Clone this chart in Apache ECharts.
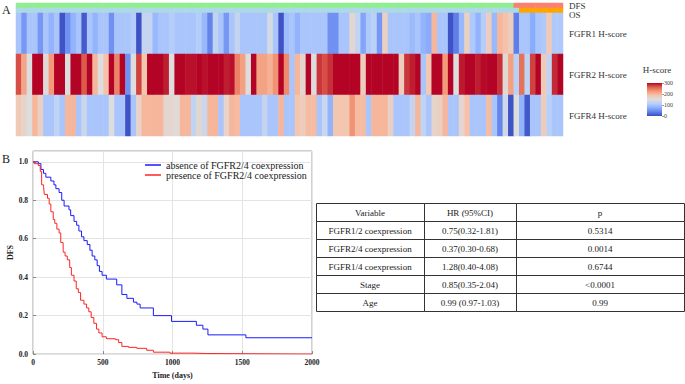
<!DOCTYPE html>
<html>
<head>
<meta charset="utf-8">
<title>FGFR H-score heatmap and DFS curves</title>
<script src="https://cdn.jsdelivr.net/npm/echarts@6/dist/echarts.min.js"></script>
<style>
html,body{margin:0;padding:0;background:#fff;}
#main{width:685px;height:384px;}
</style>
</head>
<body>
<div id="main"></div>
<script>
//---------------------------------data----------------------------
// status bars, 0 = no event, 1 = event
var dfsEvent=[0,0,0,0,0,0,0,0,0,0, 0,0,0,0,0,0,0,0,0,0,
	0,0,0,0,0,0,0,0,0,0, 0,0,0,0,0,0,0,0,0,0,
	0,0,0,0,0,0,0,0,0,0, 0,0,0,0,0,0,0,0,0,0,
	0,0,0,0,0,0,0,0,0,0, 0,0,0,0,0,0,0,0,0,0,
	0,0,0,0,0,0,0,0,0,0, 0,1,1,1,1,1,1,1,1,1];
var osEvent=[0,0,0,0,0,0,0,0,0,0, 0,0,0,0,0,0,0,0,0,0,
	0,0,0,0,0,0,0,0,0,0, 0,0,0,0,0,0,0,0,0,0,
	0,0,0,0,0,0,0,0,0,0, 0,0,0,0,0,0,0,0,0,0,
	0,0,0,0,0,0,0,0,0,0, 0,0,0,0,0,0,0,0,0,0,
	0,0,0,0,0,0,0,0,0,0, 0,0,1,1,1,1,1,1,1,1];
// H-scores per patient
var fgfr1=[100,55,100,100,55,100,80,100,5,50, 80,100,10,100,80,100,100,50,100,100,
	100,110,5,125,125,85,100,100,110,100, 100,100,100,110,85,40,120,100,55,100,
	125,100,100,100,100,100,140,100,5,90, 100,80,100,100,100,100,100,50,50,100,
	100,160,125,65,105,115,55,170,100,100, 100,100,88,100,80,72,200,100,100,5,
	35,85,170,105,80,110,175,85,200,190, 175,35,100,100,72,100,105,180,105,105];
var fgfr2=[270,215,150,300,300,155,225,300,300,150, 300,300,265,300,200,150,190,300,240,300,
	50,150,275,185,300,300,300,290,150,300, 300,295,295,300,295,300,300,300,290,295,
	240,220,150,300,218,218,205,230,300,235, 100,200,160,300,150,280,270,282,300,300,
	300,300,300,175,300,300,300,300,300,300, 175,280,290,300,100,183,300,300,225,300,
	150,292,300,300,290,298,300,300,282,158, 220,115,250,120,275,300,180,125,285,300];
var fgfr4=[180,165,150,200,170,100,100,120,100,200, 200,100,130,100,100,100,100,150,100,100,
	5,100,165,200,200,200,200,160,160,155, 200,200,120,160,130,200,200,100,165,200,
	195,100,100,100,100,125,100,100,200,100, 100,185,175,195,195,100,130,80,185,185,
	185,230,195,195,100,200,200,200,170,100, 100,100,125,200,120,100,165,170,200,100,
	100,162,190,100,100,100,195,98,40,135, 5,150,80,8,100,100,175,115,100,100];
var statusNames=['DFS','OS'];
var rowNames=['FGFR1 H-score','FGFR2 H-score','FGFR4 H-score'];
var hscoreTicks=[0,100,200,300];

// DFS step curves (days, survival)
var absTime=[0,38,57,75,92,128,150,164,187,206,223,258,270,294,313,329,348,365,389,408,424,443,460,476,495,526,600,637,673,720,745,768,863,993,1171,1218,1254,1526,2000];
var absDfs=[1,0.99,0.96,0.94,0.92,0.90,0.88,0.86,0.84,0.80,0.77,0.75,0.72,0.69,0.67,0.64,0.61,0.59,0.57,0.54,0.51,0.49,0.46,0.43,0.41,0.39,0.36,0.31,0.29,0.27,0.26,0.24,0.20,0.17,0.15,0.13,0.10,0.085,0.085];
var preTime=[0,9,38,52,62,76,81,104,116,128,145,156,171,187,199,216,230,246,263,275,294,310,325,341,365,384,400,417,436,455,472,495,526,590,614,637,685,744,815,863,981,1147,1242,2000];
var preDfs=[1,0.99,0.98,0.95,0.88,0.87,0.83,0.81,0.78,0.74,0.70,0.68,0.65,0.63,0.58,0.53,0.51,0.49,0.45,0.41,0.38,0.34,0.32,0.28,0.26,0.24,0.22,0.19,0.16,0.13,0.11,0.09,0.08,0.075,0.06,0.04,0.035,0.03,0.02,0.01,0.005,0.003,0,0];
var legendNames=['absence of FGFR2/4 coexpression','presence of FGFR2/4 coexpression'];

// cox table
var tableHead=['Variable','HR (95%CI)','p'];
var tableVar=['FGFR1/2 coexpression','FGFR2/4 coexpression','FGFR1/4 coexpression','Stage','Age'];
var tableHR=['0.75(0.32-1.81)','0.37(0.30-0.68)','1.28(0.40-4.08)','0.85(0.35-2.04)','0.99 (0.97-1.03)'];
var tableP=['0.5314','0.0014','0.6744','<0.0001','0.99'];

//---------------------------------build----------------------------
var serif='"Liberation Serif","Times New Roman",serif';
var coolwarm=['#3b4cc0','#6282ea','#8db0fe','#b8d0f9','#dddddd','#f5c4ad','#f49a7b','#de604d','#b40426'];

var colIds=[];
var statusData=[],scoreData=[];
for(var i=0;i<fgfr1.length;i++){
	colIds.push(String(i+1));
	statusData.push([i,0,dfsEvent[i]]);
	statusData.push([i,1,osEvent[i]+2]);   // OS uses its own colour pair
	scoreData.push([i,0,fgfr1[i]]);
	scoreData.push([i,1,fgfr2[i]]);
	scoreData.push([i,2,fgfr4[i]]);
}
function pairs(t,s){
	var out=[];
	for(var k=0;k<t.length;k++){ out.push([t[k],s[k]]); }
	return out;
}

// table as graphic elements
var colX=[316,424,516,684];
var rowTop=203,rowH=18;
var rows=[tableHead];
for(var r=0;r<tableVar.length;r++){ rows.push([tableVar[r],tableHR[r],tableP[r]]); }
var graphics=[
	{type:'text',left:2,top:4,style:{text:'A',font:'12px '+serif,fill:'#222'}},
	{type:'text',left:2,top:153,style:{text:'B',font:'12px '+serif,fill:'#222'}}
];
for(var ri=0;ri<rows.length;ri++){
	for(var c=0;c<3;c++){
		graphics.push({type:'rect',silent:true,
			shape:{x:colX[c]+0.5,y:rowTop+ri*rowH+0.5,width:colX[c+1]-colX[c],height:rowH},
			style:{fill:'none',stroke:'#333',lineWidth:1}});
		graphics.push({type:'text',silent:true,
			x:(colX[c]+colX[c+1])/2,y:rowTop+ri*rowH+rowH/2+1,
			style:{text:rows[ri][c],font:'9px '+serif,fill:'#222',align:'center',verticalAlign:'middle'}});
	}
}

var myChart=echarts.init(document.getElementById('main'),null,{renderer:'svg'});
var option={
	animation:false,
	backgroundColor:'#fff',
	textStyle:{fontFamily:serif},
	grid:[
		{left:16,top:3,width:547,height:10},
		{left:16,top:13,width:547,height:123},
		{left:647,top:83,width:15,height:33},
		{left:33,top:151,width:279,height:206,show:true,borderColor:'#a0a0a0',borderWidth:1}
	],
	xAxis:[
		{gridIndex:0,type:'category',data:colIds,show:false},
		{gridIndex:1,type:'category',data:colIds,show:false},
		{gridIndex:2,type:'category',data:['H-score'],show:false},
		{gridIndex:3,type:'value',min:0,max:2000,interval:500,
			name:'Time (days)',nameLocation:'middle',nameGap:14,
			nameTextStyle:{fontFamily:serif,fontWeight:'bold',fontSize:8,color:'#222'},
			axisLine:{show:false},
			axisTick:{inside:true,length:3,lineStyle:{color:'#888'}},
			axisLabel:{fontFamily:serif,fontWeight:'bold',fontSize:7.5,color:'#222',margin:4,
				formatter:function(v){return String(v);}},
			splitLine:{lineStyle:{color:'#e4e4e4'}}}
	],
	yAxis:[
		{gridIndex:0,type:'category',inverse:true,position:'right',
			data:[{value:statusNames[0]},{value:statusNames[1],textStyle:{verticalAlign:'top'}}],
			axisLine:{show:false},axisTick:{show:false},
			axisLabel:{interval:0,hideOverlap:false,fontFamily:serif,fontSize:9,color:'#333',margin:6}},
		{gridIndex:1,type:'category',inverse:true,position:'right',data:rowNames,
			axisLine:{show:false},
			axisTick:{show:true,inside:true,alignWithLabel:true,length:2,lineStyle:{color:'#999'}},
			axisLabel:{interval:0,fontFamily:serif,fontSize:9,color:'#333',margin:6}},
		{gridIndex:2,type:'value',position:'right',min:hscoreTicks[0],max:hscoreTicks[hscoreTicks.length-1],interval:100,
			name:'H-score',nameLocation:'end',nameGap:9,
			nameTextStyle:{fontFamily:serif,fontSize:9,color:'#333',align:'center',padding:[0,10,0,0]},
			axisLine:{show:false},axisTick:{show:true,length:2,lineStyle:{color:'#999'}},
			axisLabel:{fontFamily:serif,fontSize:6,color:'#444',margin:2},
			splitLine:{show:false}},
		{gridIndex:3,type:'value',min:0,max:1.056,interval:0.2,
			name:'DFS',nameLocation:'middle',nameGap:19,
			nameTextStyle:{fontFamily:serif,fontWeight:'bold',fontSize:8,color:'#222'},
			axisLine:{show:false},
			axisTick:{inside:true,length:3,lineStyle:{color:'#888'}},
			axisLabel:{fontFamily:serif,fontWeight:'bold',fontSize:7.5,color:'#222',margin:5,showMaxLabel:false,
				formatter:function(v){return v.toFixed(1);}},
			splitLine:{lineStyle:{color:'#e4e4e4'}}}
	],
	visualMap:[
		{type:'piecewise',seriesIndex:0,show:false,dimension:2,
			pieces:[{value:0,color:'#90ee90'},{value:1,color:'#fa8072'},{value:2,color:'#add8e6'},{value:3,color:'#ffa500'}]},
		{type:'continuous',seriesIndex:1,show:false,dimension:2,min:0,max:300,inRange:{color:coolwarm}}
	],
	legend:{
		data:legendNames,orient:'vertical',left:140,top:155,
		icon:'rect',itemWidth:16,itemHeight:1.5,itemGap:0,
		textStyle:{fontFamily:serif,fontSize:10,color:'#222'}
	},
	series:[
		{type:'heatmap',xAxisIndex:0,yAxisIndex:0,data:statusData,itemStyle:{borderWidth:0},emphasis:{disabled:true},silent:true},
		{type:'heatmap',xAxisIndex:1,yAxisIndex:1,data:scoreData,itemStyle:{borderWidth:0},emphasis:{disabled:true},silent:true},
		{type:'bar',xAxisIndex:2,yAxisIndex:2,data:[hscoreTicks[hscoreTicks.length-1]],barWidth:'100%',silent:true,
			itemStyle:{color:new echarts.graphic.LinearGradient(0,1,0,0,coolwarm.map(function(cl,k){return {offset:k/(coolwarm.length-1),color:cl};}))}},
		{name:legendNames[0],type:'line',xAxisIndex:3,yAxisIndex:3,step:'end',symbol:'none',
			data:pairs(absTime,absDfs),color:'#1a1aff',lineStyle:{width:1,color:'#1a1aff'}},
		{name:legendNames[1],type:'line',xAxisIndex:3,yAxisIndex:3,step:'end',symbol:'none',
			data:pairs(preTime,preDfs),color:'#ff2424',lineStyle:{width:1,color:'#ff2424'}}
	],
	graphic:graphics
};
myChart.setOption(option);
</script>
</body>
</html>
